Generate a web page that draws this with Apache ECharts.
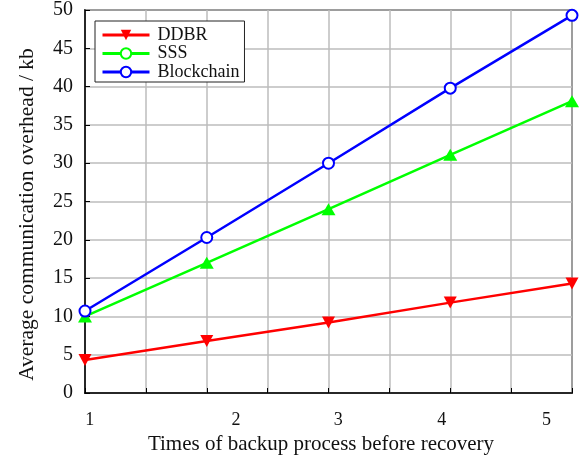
<!DOCTYPE html>
<html>
<head>
<meta charset="utf-8">
<script src="https://cdn.jsdelivr.net/npm/echarts@6/dist/echarts.min.js"></script>
<style>html,body{margin:0;padding:0;background:#fff}#c{width:584px;height:455px}</style>
</head>
<body>
<div id="c"></div>
<script>
const xValues = [1, 2, 3, 4, 5];
const ddbr = [4.3, 6.8, 9.2, 11.8, 14.3];
const sss = [10.0, 17.0, 24.0, 31.1, 38.1];
const blockchain = [10.7, 20.3, 30.0, 39.8, 49.3];
const xTickLabels = ['1', '2', '3', '4', '5'];
const xTickLabelPos = [1.04, 2.24, 3.08, 3.93, 4.79];
const yTicks = [0, 5, 10, 15, 20, 25, 30, 35, 40, 45, 50];

const font = '"Liberation Serif", "Times New Roman", serif';
const chart = echarts.init(document.getElementById('c'));
const triDown = 'path://M0,0 L10,0 L5,9 Z';

function pairs(vals, extra) {
  return xValues.map((x, i) => Object.assign({ value: [x, vals[i]] }, extra || {}));
}

chart.setOption({
  animation: false,
  textStyle: { fontFamily: font },
  grid: { left: 85, right: 12, top: 10, bottom: 62, outerBoundsMode: 'none', containLabel: false, show: true, borderColor: '#000', borderWidth: 1.5, backgroundColor: 'transparent' },
  legend: {
    left: 95, top: 21,
    orient: 'vertical',
    backgroundColor: '#fff',
    borderColor: '#222', borderWidth: 1,
    padding: [5, 5, 1, 6],
    itemWidth: 47, itemHeight: 13, itemGap: 0.5,
    lineStyle: { width: 3 },
    textStyle: { fontFamily: font, fontSize: 18, lineHeight: 18, color: '#111', padding: [0, 0, 0, 3] },
    data: ['DDBR', 'SSS', 'Blockchain']
  },
  xAxis: {
    type: 'value', min: 1, max: 5, interval: 0.5,
    name: 'Times of backup process before recovery',
    nameLocation: 'middle', nameGap: 37,
    nameTextStyle: { fontFamily: font, fontSize: 21, color: '#111', padding: [0, 15, 0, 0] },
    axisLine: { lineStyle: { color: '#000', width: 1.5 } },
    axisTick: { inside: true, length: 5, lineStyle: { color: '#000' } },
    splitLine: { show: true, lineStyle: { color: '#bdbdbd', width: 1.5 } },
    axisLabel: {
      customValues: xTickLabelPos,
      formatter: function (v) {
        const i = xTickLabelPos.findIndex(p => Math.abs(p - v) < 1e-6);
        return i >= 0 ? xTickLabels[i] : '';
      },
      margin: 18, fontFamily: font, fontSize: 18, color: '#111'
    }
  },
  yAxis: {
    type: 'value', min: 0, max: 50, interval: 5,
    name: 'Average communication overhead / kb',
    nameLocation: 'middle', nameGap: 47,
    nameTextStyle: { fontFamily: font, fontSize: 21.5, color: '#111', padding: [0, 26, 0, 0] },
    axisLine: { show: true, lineStyle: { color: '#000', width: 1.5 } },
    axisTick: { show: true, inside: true, length: 5, lineStyle: { color: '#000' } },
    splitLine: { show: true, lineStyle: { color: '#bdbdbd', width: 1.5 } },
    axisLabel: {
      customValues: yTicks,
      margin: 12, fontFamily: font, fontSize: 20, color: '#111'
    }
  },
  series: [
    {
      name: 'DDBR', type: 'line', data: pairs(ddbr), clip: false,
      symbol: triDown, symbolSize: [13, 12],
      color: '#ff0000',
      lineStyle: { width: 2.5, color: '#ff0000' },
      itemStyle: { color: '#ff0000' }
    },
    {
      name: 'SSS', type: 'line', data: pairs(sss, { symbol: 'triangle', symbolSize: [14, 12] }), clip: false,
      symbol: 'emptyCircle', symbolSize: 10,
      color: '#00ff00',
      lineStyle: { width: 2.5, color: '#00ff00' },
      itemStyle: { color: '#00ff00', borderWidth: 2 }
    },
    {
      name: 'Blockchain', type: 'line', data: pairs(blockchain), clip: false,
      symbol: 'emptyCircle', symbolSize: 11,
      color: '#0000ff',
      lineStyle: { width: 2.5, color: '#0000ff' },
      itemStyle: { color: '#0000ff', borderWidth: 2.5 }
    }
  ]
});
</script>
</body>
</html>
